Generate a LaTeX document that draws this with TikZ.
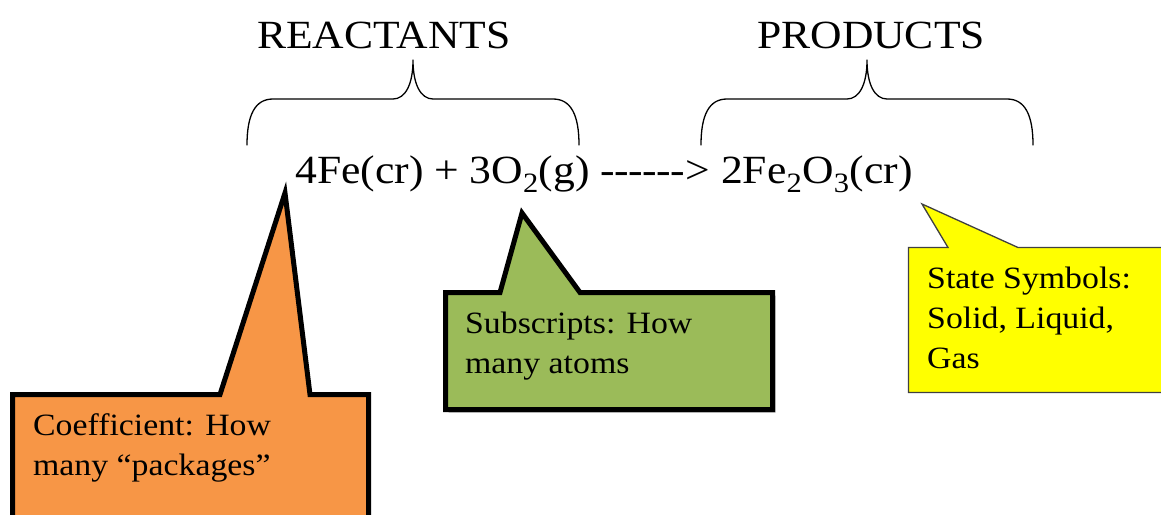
\documentclass[tikz,border=0pt]{standalone}
\usepackage{fontspec}
\setmainfont{Liberation Serif}
\usepackage{graphicx}
\newcommand\stretchtxt[1]{\scalebox{1.09}[1]{#1}}
\newcommand\hy{-\kern-0.5pt}
\definecolor{calloutorange}{HTML}{F79646}
\definecolor{calloutgreen}{HTML}{9BBB59}
\definecolor{calloutyellow}{HTML}{FFFF00}
\tikzset{
  bigtext/.style={anchor=base west, inner sep=0pt, font=\fontsize{40}{48}\selectfont},
  calltext/.style={anchor=base west, inner sep=0pt, align=left, font=\fontsize{31}{40}\selectfont},
  bracepath/.style={line width=1.3pt, line cap=round, line join=round},
  thickcall/.style={draw=black, line width=5pt, line join=miter},
  thincall/.style={draw=black!75, line width=1.3pt, line join=miter},
  shadowcall/.style={fill=black!30, draw=none},
  pics/curlybrace/.style={code={
    \draw[bracepath] (-166,85) .. controls (-166,55) and (-158,39) .. (-140,39)
      -- (-20,39) .. controls (-8,39) and (0,25) .. (0,0)
      .. controls (0,25) and (8,39) .. (20,39)
      -- (140,39) .. controls (158,39) and (166,55) .. (166,85);
  }}
}
\begin{document}
\begin{tikzpicture}[x=1pt, y=-1pt]
\useasboundingbox (0,0) rectangle (1161,514);
\fill[white] (0,0) rectangle (1161,514);

% headers
\node[bigtext] (reactants) at (257,48) {\stretchtxt{REACTANTS}};
\node[bigtext] (products) at (757,48) {\stretchtxt{PRODUCTS}};

% braces
\pic at (413,60) {curlybrace};
\pic at (867,60) {curlybrace};

% equation
\node[bigtext] (eq) at (295,183) {\stretchtxt{4Fe(cr) + 3O\textsubscript{2}(g) \hy\hy\hy\hy\hy\hy\kern1pt> 2Fe\textsubscript{2}O\textsubscript{3}(cr)}};

% orange callout
\coordinate (otip) at (285,193);
\path[thickcall, fill=calloutorange] (12.5,394.5) -- (220,394.5) -- (otip) -- (310,394.5)
  -- (368.5,394.5) -- (368.5,540) -- (12.5,540) -- cycle;
\node[calltext] (coef) at (33,475) {\stretchtxt{Coefficient: How}\\\stretchtxt{many “packages”}};

% green callout
\coordinate (gtip) at (522,213);
\path[shadowcall, shift={(3,3)}] (445.5,292.5) -- (500,292.5) -- (522,213) -- (580,292.5)
  -- (772.5,292.5) -- (772.5,409.5) -- (445.5,409.5) -- cycle;
\path[thickcall, fill=calloutgreen] (445.5,292.5) -- (500,292.5) -- (gtip) -- (580,292.5)
  -- (772.5,292.5) -- (772.5,409.5) -- (445.5,409.5) -- cycle;
\node[calltext] (subs) at (465,373) {\stretchtxt{Subscripts: How}\\\stretchtxt{many atoms}};

% yellow callout
\coordinate (ytip) at (922,204);
\path[thincall, fill=calloutyellow] (908.5,247.5) -- (948,247.5) -- (ytip) -- (1018,247.5)
  -- (1180,247.5) -- (1180,392.5) -- (908.5,392.5) -- cycle;
\node[calltext] (state) at (927,368) {\stretchtxt{State Symbols:}\\\stretchtxt{Solid, Liquid,}\\\stretchtxt{Gas}};
\end{tikzpicture}
\end{document}
